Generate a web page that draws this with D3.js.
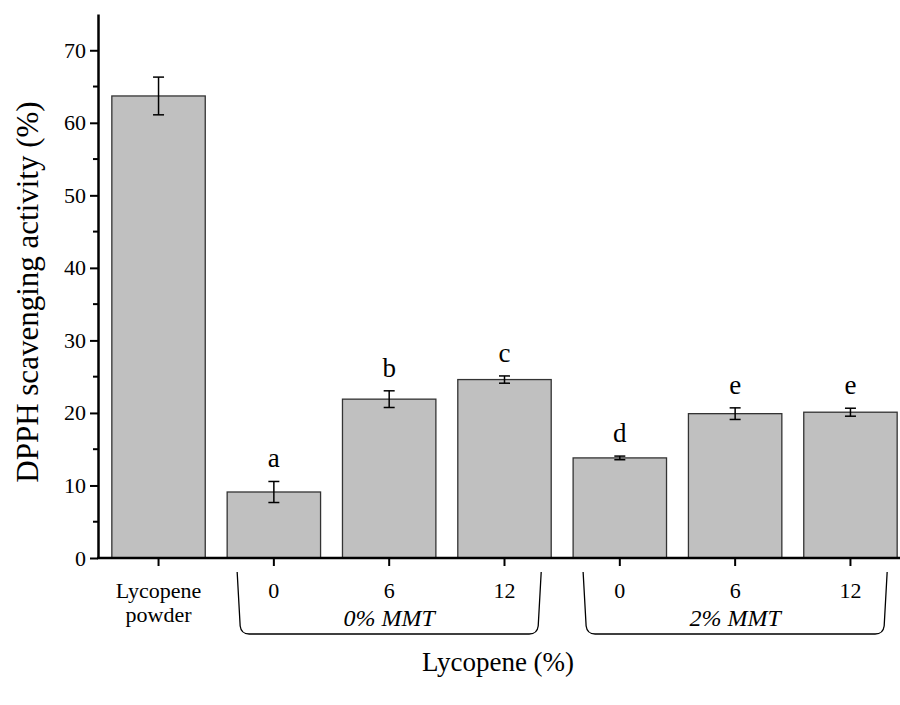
<!DOCTYPE html>
<html>
<head>
<meta charset="utf-8">
<script src="https://cdn.jsdelivr.net/npm/d3@7"></script>
<style>
  body { margin: 0; background: #fff; }
  svg { display: block; font-family: "Liberation Serif", "Times New Roman", serif; }
</style>
</head>
<body>
<div id="chart"></div>
<script>
// DPPH scavenging bars with error bars and significance letters

const categories = ["Lycopene powder", "0", "6", "12", "0", "6", "12"];
const values = [63.7, 9.1, 21.9, 24.6, 13.8, 19.9, 20.1];
const errors = [2.6, 1.45, 1.15, 0.5, 0.25, 0.8, 0.55];
const letters = ["", "a", "b", "c", "d", "e", "e"];
const groupLabels = ["0% MMT", "2% MMT"];
const groupFirst = [1, 4];
const groupLast = [3, 6];
const yTicks = [0, 10, 20, 30, 40, 50, 60, 70];
const yMinor = [5, 15, 25, 35, 45, 55, 65];

const width = 900, height = 705;
const svg = d3.select("#chart").append("svg")
  .attr("width", width)
  .attr("height", height);

const x = d3.scaleBand()
  .domain(d3.range(categories.length))
  .range([98, 911])
  .paddingInner(0.19)
  .paddingOuter(0.12);

const y = d3.scaleLinear()
  .domain([0, 75])
  .range([558, 14]);

// bars
svg.selectAll(".bar")
  .data(values)
  .enter()
  .append("rect")
  .attr("class", "bar")
  .attr("x", (d, i) => x(i))
  .attr("y", d => y(d))
  .attr("width", x.bandwidth())
  .attr("height", d => y(0) - y(d))
  .attr("fill", "#c0c0c0")
  .attr("stroke", "#333")
  .attr("stroke-width", 1.3);

// error bars
const cx = i => x(i) + x.bandwidth() / 2;
const err = svg.append("g").attr("stroke", "#000").attr("stroke-width", 1.5);
values.forEach((v, i) => {
  err.append("line").attr("x1", cx(i)).attr("x2", cx(i))
    .attr("y1", y(v + errors[i])).attr("y2", y(v - errors[i]));
  [v + errors[i], v - errors[i]].forEach(e => {
    err.append("line").attr("x1", cx(i) - 5.5).attr("x2", cx(i) + 5.5)
      .attr("y1", y(e)).attr("y2", y(e));
  });
});

// letters
svg.selectAll(".letter")
  .data(letters)
  .enter()
  .append("text")
  .attr("x", (d, i) => cx(i))
  .attr("y", (d, i) => y(values[i] + errors[i]) - 14)
  .attr("text-anchor", "middle")
  .attr("font-size", 27)
  .text(d => d);

// y axis
const yAxis = svg.append("g")
  .attr("transform", "translate(98,0)")
  .call(d3.axisLeft(y).tickValues(yTicks).tickSize(8).tickPadding(4).tickSizeOuter(0));
yAxis.select(".domain").attr("stroke-width", 2.5);
yAxis.selectAll(".tick line").attr("stroke-width", 2);
yAxis.selectAll(".tick text")
  .attr("font-family", "Liberation Serif")
  .attr("font-size", 22)
  .attr("fill", "#000");

svg.append("g")
  .selectAll("line")
  .data(yMinor)
  .enter()
  .append("line")
  .attr("x1", 93).attr("x2", 98)
  .attr("y1", d => y(d)).attr("y2", d => y(d))
  .attr("stroke", "#000")
  .attr("stroke-width", 2);

// x axis
svg.append("line")
  .attr("x1", 97).attr("x2", width)
  .attr("y1", y(0)).attr("y2", y(0))
  .attr("stroke", "#000")
  .attr("stroke-width", 2.5);

svg.append("g")
  .selectAll("line")
  .data(categories)
  .enter()
  .append("line")
  .attr("x1", (d, i) => cx(i)).attr("x2", (d, i) => cx(i))
  .attr("y1", y(0)).attr("y2", y(0) + 8)
  .attr("stroke", "#000")
  .attr("stroke-width", 2);

const labels = svg.append("g")
  .attr("font-size", 22)
  .attr("text-anchor", "middle");

categories.forEach((c, i) => {
  const t = labels.append("text").attr("x", cx(i)).attr("y", 598);
  if (i === 0) {
    t.append("tspan").attr("x", cx(i)).text("Lycopene");
    t.append("tspan").attr("x", cx(i)).attr("dy", 24).text("powder");
  } else {
    t.text(c);
  }
});

// group brackets
const brackets = svg.append("g")
  .attr("fill", "none")
  .attr("stroke", "#000")
  .attr("stroke-width", 1.3);

groupLabels.forEach((g, k) => {
  const x0 = x(groupFirst[k]) + 10;
  const x1 = x(groupLast[k]) + x.bandwidth() - 10;
  const top = 572, bot = 634;
  brackets.append("path")
    .attr("d", `M${x0},${top} L${x0 + 3},${bot - 8} Q${x0 + 4},${bot} ${x0 + 12},${bot}`
      + ` L${x1 - 12},${bot} Q${x1 - 4},${bot} ${x1 - 3},${bot - 8} L${x1},${top}`);
  svg.append("text")
    .attr("x", (x0 + x1) / 2)
    .attr("y", 626)
    .attr("text-anchor", "middle")
    .attr("font-size", 24)
    .attr("font-style", "italic")
    .text(g);
});

// axis titles
svg.append("text")
  .attr("x", 498)
  .attr("y", 671)
  .attr("text-anchor", "middle")
  .attr("font-size", 27)
  .text("Lycopene (%)");

svg.append("text")
  .attr("transform", "translate(38,292) rotate(-90)")
  .attr("text-anchor", "middle")
  .attr("font-size", 31)
  .text("DPPH scavenging activity (%)");
</script>
</body>
</html>
